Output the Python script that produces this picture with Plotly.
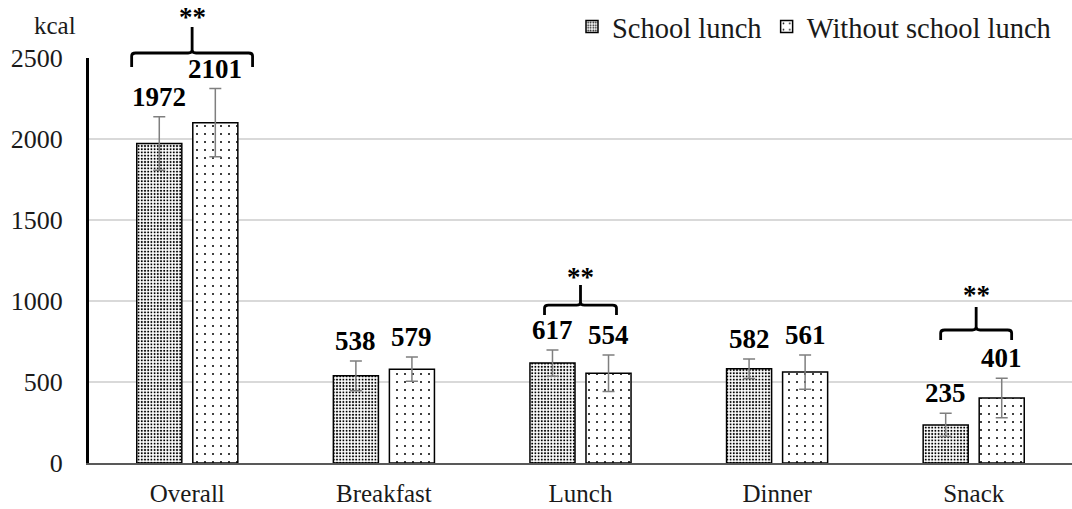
import plotly.graph_objects as go

# ---- data -------------------------------------------------------------
categories = ["Overall", "Breakfast", "Lunch", "Dinner", "Snack"]
series_names = ["School lunch", "Without school lunch"]
school = [1972, 538, 617, 582, 235]
school_err = [165, 92, 81, 60, 72]
no_school = [2101, 579, 554, 561, 401]
no_school_err = [210, 75, 113, 106, 122]
y_ticks = [0, 500, 1000, 1500, 2000, 2500]
unit_label = "kcal"

# significance markers: category index and bracket geometry (offsets in
# category units, heights in kcal)
sig_index = [0, 2, 4]
sig_text = ["**", "**", "**"]
sig_left = [-0.283, -0.183, -0.168]
sig_right = [0.332, 0.183, 0.193]
sig_bar = [2531, 975, 821]
sig_end = [2444, 914, 759]
sig_stem = [2691, 1099, 963]
sig_star = [2753, 1148, 1037]

# ---- layout constants ------------------------------------------------
W, H = 1072, 509
ML, MR, MT, MB = 89, 0, 58, 46
Y_MAX = 2500
BARGAP = 0.43
SERIF = "Liberation Serif"
TXT = "#1a1a1a"

x = list(range(len(categories)))

fig = go.Figure()
fig.add_trace(go.Bar(
    name=series_names[0], x=x, y=school,
    marker=dict(color="white", line=dict(color="black", width=1.5),
                pattern=dict(shape=".", fgcolor="black", bgcolor="white",
                             size=3.2, solidity=0.32, fillmode="replace")),
    error_y=dict(type="data", array=school_err, color="#7f7f7f",
                 thickness=1.5, width=6),
))
fig.add_trace(go.Bar(
    name=series_names[1], x=x, y=no_school,
    marker=dict(color="white", line=dict(color="black", width=1.5),
                pattern=dict(shape=".", fgcolor="black", bgcolor="white",
                             size=8, solidity=0.05, fillmode="replace")),
    error_y=dict(type="data", array=no_school_err, color="#7f7f7f",
                 thickness=1.5, width=6),
))

# value labels above the error bars
half = (1 - BARGAP) / 4
annotations = []
for vals, errs, off in ((school, school_err, -half), (no_school, no_school_err, half)):
    for i, (v, e) in enumerate(zip(vals, errs)):
        annotations.append(dict(
            x=i + off, y=v + e, xref="x", yref="y", text=f"<b>{v}</b>",
            showarrow=False, xanchor="center", yanchor="bottom", yshift=3,
            font=dict(family=SERIF, size=27, color="black")))

# significance brackets
shapes = []
rx, ry = 0.02, 18 / Y_MAX
for k, ci in enumerate(sig_index):
    x0, x1 = ci + sig_left[k], ci + sig_right[k]
    xc = (x0 + x1) / 2
    yb, ye, yt = sig_bar[k] / Y_MAX, sig_end[k] / Y_MAX, sig_stem[k] / Y_MAX
    ryy = min(ry, (yb - ye) * 0.6)
    path = (f"M {x0},{ye} L {x0},{yb - ryy} Q {x0},{yb} {x0 + rx},{yb} "
            f"L {xc - rx},{yb} Q {xc},{yb} {xc},{yb + ryy} L {xc},{yt} "
            f"M {xc},{yb + ryy} Q {xc},{yb} {xc + rx},{yb} "
            f"L {x1 - rx},{yb} Q {x1},{yb} {x1},{yb - ryy} L {x1},{ye}")
    shapes.append(dict(type="path", path=path, xref="x", yref="paper",
                       line=dict(color="black", width=2.8)))
    annotations.append(dict(
        x=xc, y=sig_star[k] / Y_MAX, xref="x", yref="paper",
        text=f"<b>{sig_text[k]}</b>", showarrow=False,
        xanchor="center", yanchor="middle",
        font=dict(family=SERIF, size=27, color="black")))

annotations.append(dict(
    x=(55 - ML) / (W - ML - MR), y=1 + 33 / (H - MT - MB),
    xref="paper", yref="paper", text=unit_label, showarrow=False,
    xanchor="center", yanchor="middle",
    font=dict(family=SERIF, size=25, color=TXT)))

fig.update_layout(
    width=W, height=H,
    margin=dict(l=ML, r=MR, t=MT, b=MB, autoexpand=False),
    paper_bgcolor="white", plot_bgcolor="white",
    barmode="group", bargap=BARGAP, bargroupgap=0.196,
    font=dict(family=SERIF, color=TXT),
    showlegend=True,
    legend=dict(orientation="h", xref="container", yref="container",
                x=572 / W, y=1 - 27 / H, xanchor="left", yanchor="middle",
                font=dict(family=SERIF, size=28.5, color=TXT),
                bgcolor="rgba(0,0,0,0)", traceorder="normal"),
    xaxis=dict(range=[-0.5, len(categories) - 0.5], tickmode="array",
               tickvals=x, ticktext=categories, showgrid=False,
               zeroline=False, showline=True, linecolor="#595959",
               linewidth=2, ticks="", ticklabelstandoff=7,
               tickfont=dict(family=SERIF, size=25, color=TXT)),
    yaxis=dict(range=[0, Y_MAX], tickmode="array", tickvals=y_ticks,
               showgrid=True, gridcolor="#d9d9d9", gridwidth=1.5,
               zeroline=False, showline=True, linecolor="black",
               linewidth=3, ticks="", ticklabelstandoff=18,
               tickfont=dict(family=SERIF, size=26, color=TXT)),
    shapes=shapes, annotations=annotations,
)

fig.write_html("out.html")
